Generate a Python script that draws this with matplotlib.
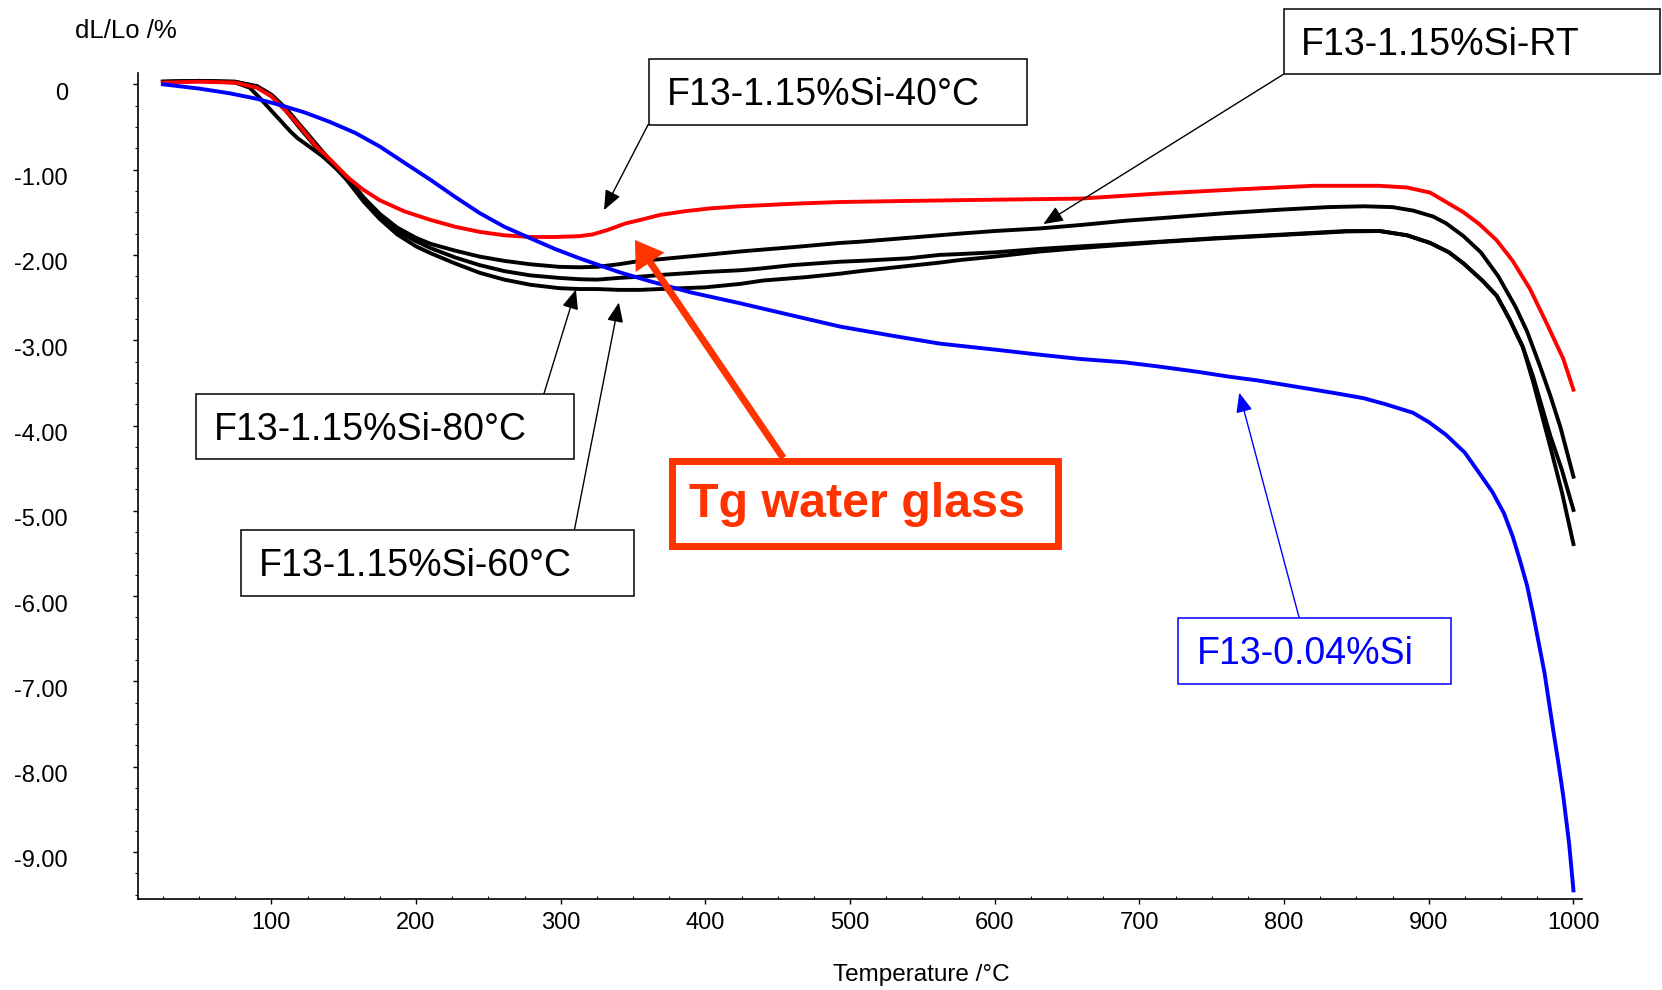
import matplotlib
matplotlib.use('Agg')
import matplotlib.pyplot as plt
from matplotlib.patches import Rectangle
from matplotlib.ticker import MultipleLocator
from matplotlib.transforms import ScaledTranslation

plt.rcParams['font.family'] = ['Liberation Sans', 'DejaVu Sans']

# ---------------- data ----------------
temp_40 = [25, 50, 75, 90, 100, 110, 120, 131, 140, 152, 163, 175, 192, 210, 227, 244, 261, 279,
           296, 313, 322, 332, 345, 355, 369, 385, 403, 424, 461, 493, 530, 585, 659, 714, 770,
           820, 866, 885, 901, 912, 924, 935, 947, 958, 970, 982, 993, 1000]
dl_40 = [0.02, 0.03, 0.02, -0.04, -0.14, -0.31, -0.50, -0.73, -0.87, -1.08, -1.23, -1.36, -1.49,
         -1.59, -1.67, -1.73, -1.77, -1.79, -1.79, -1.78, -1.76, -1.71, -1.63, -1.59, -1.53, -1.49,
         -1.455, -1.43, -1.40, -1.38, -1.37, -1.356, -1.34, -1.28, -1.23, -1.19, -1.19, -1.21,
         -1.27, -1.38, -1.50, -1.64, -1.83, -2.07, -2.40, -2.82, -3.22, -3.58]

temp_rt = [25, 50, 75, 90, 100, 110, 120, 130, 140, 152, 164, 175, 187, 200, 210, 227, 244, 261,
           279, 299, 313, 325, 340, 355, 369, 400, 424, 438, 460, 493, 507, 540, 576, 600, 631,
           659, 690, 714, 760, 797, 830, 855, 875, 889, 903, 912, 924, 936, 948, 960, 968, 977,
           984, 991, 1000]
dl_rt = [0.03, 0.04, 0.03, -0.02, -0.12, -0.28, -0.48, -0.68, -0.88, -1.08, -1.33, -1.52, -1.68,
         -1.80, -1.87, -1.95, -2.02, -2.07, -2.11, -2.14, -2.145, -2.14, -2.11, -2.07, -2.05,
         -2.00, -1.96, -1.94, -1.91, -1.86, -1.845, -1.80, -1.75, -1.72, -1.69, -1.65, -1.60,
         -1.57, -1.51, -1.47, -1.44, -1.43, -1.44, -1.48, -1.55, -1.63, -1.78, -1.97, -2.25,
         -2.61, -2.90, -3.31, -3.65, -4.02, -4.60]

temp_80 = [25, 50, 75, 85, 92, 100, 106, 113, 118, 127, 135, 145, 152, 164, 175, 187, 200, 210,
           227, 244, 261, 279, 299, 313, 325, 340, 355, 369, 400, 424, 438, 460, 493, 507, 540,
           562, 576, 600, 631, 659, 690, 714, 751, 800, 843, 866, 885, 901, 914, 924, 937, 947,
           956, 965, 972, 984, 992, 1000]
dl_80 = [0.03, 0.04, 0.02, -0.04, -0.16, -0.31, -0.42, -0.55, -0.63, -0.74, -0.84, -0.99, -1.10,
         -1.36, -1.55, -1.72, -1.84, -1.92, -2.03, -2.12, -2.19, -2.24, -2.27, -2.285, -2.29,
         -2.27, -2.255, -2.235, -2.20, -2.18, -2.16, -2.12, -2.08, -2.07, -2.04, -2.00, -1.99,
         -1.97, -1.93, -1.90, -1.87, -1.845, -1.805, -1.76, -1.72, -1.72, -1.77, -1.86, -1.97,
         -2.10, -2.30, -2.48, -2.76, -3.08, -3.42, -4.12, -4.52, -4.99]

temp_60 = [25, 50, 75, 90, 100, 110, 120, 130, 140, 152, 164, 175, 187, 200, 210, 227, 244, 261,
           279, 299, 313, 325, 340, 355, 369, 400, 424, 440, 470, 493, 507, 540, 562, 576, 600,
           631, 659, 690, 714, 751, 800, 843, 866, 885, 901, 914, 924, 937, 947, 956, 965, 972,
           984, 992, 1000]
dl_60 = [0.03, 0.04, 0.03, -0.03, -0.14, -0.31, -0.52, -0.72, -0.90, -1.12, -1.38, -1.58, -1.76,
         -1.90, -1.98, -2.10, -2.21, -2.29, -2.35, -2.39, -2.40, -2.40, -2.41, -2.41, -2.40,
         -2.38, -2.34, -2.30, -2.26, -2.22, -2.19, -2.13, -2.09, -2.06, -2.02, -1.96, -1.92,
         -1.88, -1.85, -1.81, -1.765, -1.725, -1.72, -1.77, -1.86, -1.97, -2.10, -2.30, -2.48,
         -2.76, -3.08, -3.48, -4.25, -4.78, -5.39]

temp_004 = [25, 50, 71, 90, 106, 123, 140, 158, 175, 192, 210, 227, 244, 261, 279, 296, 313, 340,
            362, 390, 424, 460, 493, 530, 562, 600, 631, 659, 690, 714, 740, 763, 781, 810, 835,
            855, 870, 889, 900, 912, 925, 935, 944, 952, 958, 963, 968, 972, 976, 980, 986, 990,
            993, 997, 1000]
dl_004 = [0.0, -0.05, -0.105, -0.17, -0.243, -0.33, -0.438, -0.57, -0.73, -0.92, -1.12, -1.32,
          -1.51, -1.67, -1.805, -1.93, -2.04, -2.20, -2.31, -2.44, -2.567, -2.71, -2.84, -2.95,
          -3.04, -3.11, -3.17, -3.22, -3.26, -3.31, -3.37, -3.43, -3.47, -3.55, -3.62, -3.68,
          -3.75, -3.85, -3.96, -4.11, -4.32, -4.56, -4.78, -5.03, -5.30, -5.58, -5.88, -6.20,
          -6.55, -6.90, -7.57, -8.00, -8.35, -8.90, -9.45]

x_ticks = [100, 200, 300, 400, 500, 600, 700, 800, 900, 1000]
x_tick_labels = ['100', '200', '300', '400', '500', '600', '700', '800', '900', '1000']
y_ticks = [0, -1, -2, -3, -4, -5, -6, -7, -8, -9]
y_tick_labels = ['0', '-1.00', '-2.00', '-3.00', '-4.00', '-5.00', '-6.00', '-7.00', '-8.00', '-9.00']

label_40 = 'F13-1.15%Si-40°C'
label_rt = 'F13-1.15%Si-RT'
label_80 = 'F13-1.15%Si-80°C'
label_60 = 'F13-1.15%Si-60°C'
label_004 = 'F13-0.04%Si'
label_tg = 'Tg water glass'

# ---------------- figure ----------------
W, H = 1662, 990
fig = plt.figure(figsize=(W / 100, H / 100), dpi=100)
ax = fig.add_axes([137.7 / W, 1 - 899 / H, (1581.7 - 137.7) / W, (899 - 73.3) / H])

LW = 2.8
ax.plot(temp_rt, dl_rt, color='black', lw=LW, solid_joinstyle='round')
ax.plot(temp_80, dl_80, color='black', lw=LW, solid_joinstyle='round')
ax.plot(temp_60, dl_60, color='black', lw=LW, solid_joinstyle='round')
ax.plot(temp_40, dl_40, color='#FF0000', lw=LW, solid_joinstyle='round')
ax.plot(temp_004, dl_004, color='#0000FF', lw=LW, solid_joinstyle='round')

ax.set_xlim(7.6, 1005.7)
ax.set_ylim(-9.551, 0.129)
ax.set_xticks(x_ticks)
ax.set_xticklabels(x_tick_labels)
ax.set_yticks(y_ticks)
ax.set_yticklabels(y_tick_labels)
ax.xaxis.set_minor_locator(MultipleLocator(25))
ax.yaxis.set_minor_locator(MultipleLocator(0.25))
for s in ['top', 'right']:
    ax.spines[s].set_visible(False)
for s in ['left', 'bottom']:
    ax.spines[s].set_linewidth(1.2)
ax.tick_params(axis='both', which='major', direction='out', length=3.6, width=1.0,
               labelsize=17, colors='black')
ax.tick_params(axis='y', which='major', pad=46.5)
ax.tick_params(axis='x', which='major', pad=6)
ax.tick_params(axis='y', which='minor', direction='out', length=2.2, width=0.8)
ax.tick_params(axis='x', which='minor', direction='in', length=2.2, width=0.8)
offset = ScaledTranslation(0, -7 / 100, fig.dpi_scale_trans)
for lab in ax.get_yticklabels():
    lab.set_transform(lab.get_transform() + offset)

fig.text(126 / W, 1 - 30.7 / H, 'dL/Lo /%', ha='center', va='center', fontsize=18.5)
fig.text(921 / W, 1 - 975 / H, 'Temperature /°C', ha='center', va='center', fontsize=17.5)


# ---------------- annotations ----------------
def fig_box(x0, y0, x1, y1, color, lw):
    fig.add_artist(Rectangle((x0 / W, 1 - y1 / H), (x1 - x0) / W, (y1 - y0) / H,
                             transform=fig.transFigure, facecolor='white', edgecolor=color,
                             lw=lw, zorder=5))


def fig_label(x, baseline, text, color='black', size=27, weight='normal'):
    fig.text(x / W, 1 - baseline / H, text, ha='left', va='baseline', fontsize=size,
             color=color, fontweight=weight, zorder=6)


def thin_arrow(tip, start, color='black'):
    ax.annotate('', xy=tip, xycoords='data', xytext=(start[0], H - start[1]),
                textcoords='figure pixels', annotation_clip=False,
                arrowprops=dict(arrowstyle='-|>,head_length=0.6,head_width=0.25',
                                mutation_scale=20, lw=1.0, color=color,
                                shrinkA=0, shrinkB=0), zorder=4)


TG = '#FF3300'

# 40 C
thin_arrow((329.9, -1.474), (648.3, 124.3))
fig_box(649, 59, 1027, 124.5, 'black', 1.1)
fig_label(667, 105.2, label_40)

# RT
thin_arrow((633.6, -1.638), (1283.6, 74.2))
fig_box(1283.6, 8.5, 1660, 74.2, 'black', 1.1)
fig_label(1301, 54.8, label_rt)

# 80 C
thin_arrow((310.5, -2.406), (544, 393.5))
fig_box(196, 393.6, 574, 459.2, 'black', 1.1)
fig_label(214, 439.6, label_80)

# 60 C
thin_arrow((340.2, -2.558), (574.5, 529.5))
fig_box(241, 529.5, 634.3, 595.5, 'black', 1.1)
fig_label(259, 576.2, label_60)

# 0.04 % Si
thin_arrow((769.0, -3.615), (1299.3, 618.3), color='#0000FF')
fig_box(1178.3, 618.3, 1451, 684.3, '#0000FF', 1.1)
fig_label(1196.5, 664.5, label_004, color='#0000FF')

# Tg water glass
ax.annotate('', xy=(351.3, -1.825), xycoords='data', xytext=(783.3, H - 458),
            textcoords='figure pixels', annotation_clip=False,
            arrowprops=dict(arrowstyle='simple,head_length=0.97,head_width=1.25,tail_width=0.25',
                            mutation_scale=20, lw=0, facecolor=TG, edgecolor=TG,
                            shrinkA=0, shrinkB=0), zorder=7)
fig_box(672, 460.5, 1058, 545.5, TG, 5.0)
fig_label(689, 517, label_tg, color=TG, size=34.8, weight='bold')

fig.savefig('out.png', dpi=100)
